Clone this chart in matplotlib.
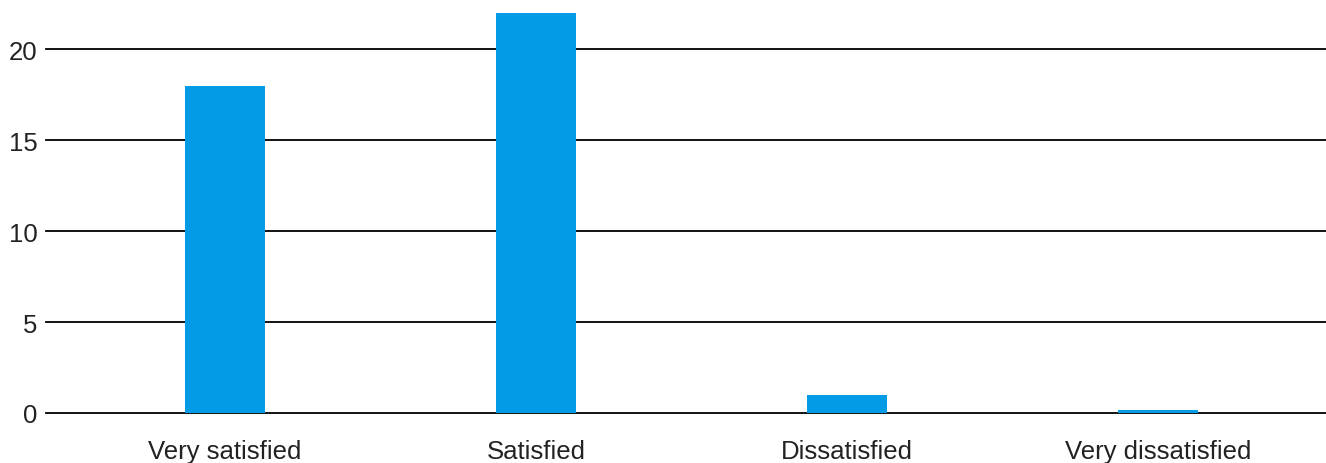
import matplotlib
matplotlib.use('Agg')
import matplotlib.pyplot as plt
import numpy as np

plt.rcParams['font.family'] = ['Liberation Sans', 'DejaVu Sans']

# 資料
categories = ['Very satisfied', 'Satisfied', 'Dissatisfied', 'Very dissatisfied']
counts = [18, 22, 1, 0.15]
y_ticks = [0, 5, 10, 15, 20]

fig = plt.figure(figsize=(13.26, 4.64), dpi=100)
ax = fig.add_axes([46 / 1326, 50 / 464, 1280 / 1326, 400 / 464])

x = np.arange(len(categories))
ax.bar(x, counts, width=0.257, color='#039BE5', zorder=3)

ax.set_xlim(-0.5756, 3.540)
ax.set_ylim(0, 22)
ax.set_yticks(y_ticks)
ax.set_xticks(x)
ax.set_xticklabels(categories)

ax.grid(axis='y', color='black', linewidth=1.3, zorder=1)
for gl in ax.get_ygridlines():
    gl.set_clip_on(False)
ax.tick_params(axis='both', length=0, labelsize=18.5, colors='#222222')
ax.tick_params(axis='x', pad=18.5)
ax.tick_params(axis='y', pad=6)
for s in ax.spines.values():
    s.set_visible(False)

fig.savefig('out.png', dpi=100)
